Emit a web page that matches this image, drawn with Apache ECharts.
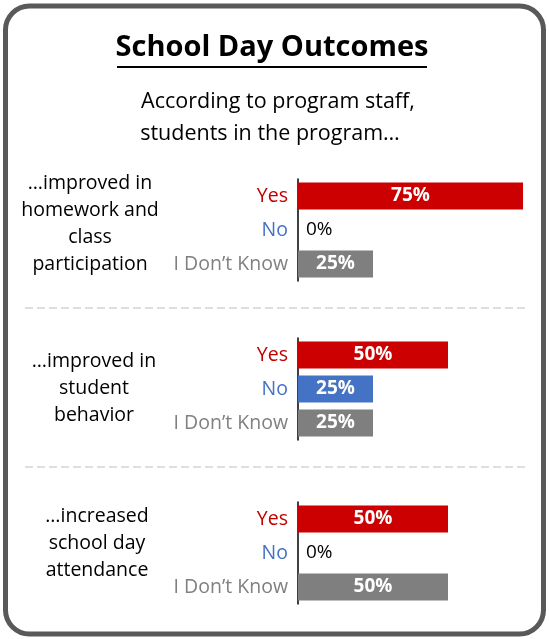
<!DOCTYPE html>
<html>
<head>
    <meta charset="utf-8">
    <title>School Day Outcomes</title>
    <style>
        html, body { margin: 0; padding: 0; background: #fff; }
        #chart { width: 549px; height: 639px; }
    </style>
</head>
<body>
    <div id="chart"></div>
    <script src="https://cdn.jsdelivr.net/npm/echarts@6/dist/echarts.min.js"></script>
    <script>
        // 数据
        var categories = ['Yes', 'No', 'I Don’t Know'];
        var questions = [
            ['…improved in', 'homework and', 'class', 'participation'],
            ['…improved in', 'student', 'behavior'],
            ['…increased', 'school day', 'attendance']
        ];
        var yesValues = [75, 50, 50];
        var noValues = [0, 25, 0];
        var idkValues = [25, 25, 50];

        var barColors = ['#cc0000', '#4472c4', '#7f7f7f'];
        var labelColors = ['#c00000', '#4472c4', '#808080'];
        var font = 'Open Sans';

        var panelTops = [179, 338, 502];
        var questionPos = [[90, 224], [94, 388], [97, 543]];

        var chart = echarts.init(document.getElementById('chart'));

        var grids = [], xAxes = [], yAxes = [], series = [];
        panelTops.forEach(function (top, i) {
            grids.push({ left: 298, top: top, width: 240, height: 102 });
            xAxes.push({
                gridIndex: i, type: 'value', min: 0, max: 80, show: false
            });
            yAxes.push({
                gridIndex: i, type: 'category', data: categories, inverse: true,
                axisLine: { show: true, lineStyle: { color: '#000', width: 1.5 } },
                axisTick: { show: false },
                axisLabel: {
                    fontFamily: font, fontSize: 19.5, margin: 10,
                    color: function (v, idx) { return labelColors[idx]; }
                }
            });
            var vals = [yesValues[i], noValues[i], idkValues[i]];
            series.push({
                type: 'bar',
                xAxisIndex: i, yAxisIndex: i,
                barWidth: 27,
                animation: false,
                data: vals.map(function (v, k) {
                    var item = { value: v, itemStyle: { color: barColors[k] } };
                    if (v === 0) {
                        item.label = {
                            position: 'right', distance: 8, color: '#000',
                            fontWeight: 'normal'
                        };
                    }
                    return item;
                }),
                label: {
                    show: true, position: 'inside', formatter: '{c}%',
                    fontFamily: font, fontSize: 19, fontWeight: 'bold', color: '#fff'
                }
            });
        });

        var graphics = [
            // 外框
            {
                type: 'rect', z: 10,
                shape: { x: 5.5, y: 6, width: 538, height: 628, r: 24 },
                style: { fill: null, stroke: '#595959', lineWidth: 5 }
            },
            {
                type: 'text', style: {
                    x: 272, y: 48, text: 'School Day Outcomes', textAlign: 'center',
                    textVerticalAlign: 'middle', font: 'bold 29px "Open Sans"', fill: '#000'
                }
            },
            {
                type: 'line', shape: { x1: 117, y1: 67, x2: 427, y2: 67 },
                style: { stroke: '#000', lineWidth: 2 }
            },
            {
                type: 'text', style: {
                    x: 278, y: 102, text: 'According to program staff,', textAlign: 'center',
                    textVerticalAlign: 'middle', font: '21.5px "Open Sans"', fill: '#000'
                }
            },
            {
                type: 'text', style: {
                    x: 270, y: 134, text: 'students in the program…', textAlign: 'center',
                    textVerticalAlign: 'middle', font: '21.5px "Open Sans"', fill: '#000'
                }
            }
        ];
        [308, 467].forEach(function (y) {
            graphics.push({
                type: 'line', shape: { x1: 25, y1: y, x2: 525, y2: y },
                style: { stroke: '#dedede', lineWidth: 2, lineDash: [8, 4] }
            });
        });
        questions.forEach(function (lines, i) {
            graphics.push({
                type: 'text', style: {
                    x: questionPos[i][0], y: questionPos[i][1], text: lines.join('\n'),
                    textAlign: 'center', textVerticalAlign: 'middle', lineHeight: 27,
                    font: '19.5px "Open Sans"', fill: '#000'
                }
            });
        });

        chart.setOption({
            animation: false,
            grid: grids,
            xAxis: xAxes,
            yAxis: yAxes,
            series: series,
            graphic: graphics
        });
    </script>
</body>
</html>
